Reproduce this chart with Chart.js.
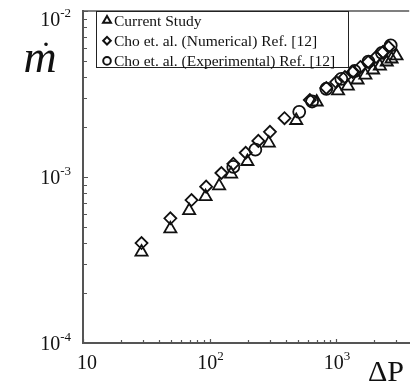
<!DOCTYPE html>
<html><head><meta charset="utf-8">
<script src="https://cdn.jsdelivr.net/npm/chart.js@4/dist/chart.umd.min.js"></script>
<style>html,body{margin:0;padding:0;background:#fff}canvas{display:block}</style>
</head><body><canvas id="c" width="418" height="385"></canvas>
<script>
const seriesNames = ['Current Study', 'Cho et. al. (Numerical) Ref. [12]', 'Cho et. al. (Experimental) Ref. [12]'];
const currentP = [29, 49, 69, 93, 119, 148, 199, 294, 484, 702, 1036, 1237, 1476, 1702, 1960, 2218, 2512, 2743, 3000];
const currentM = [3.53e-4, 4.87e-4, 6.27e-4, 7.62e-4, 8.84e-4, 1.04e-3, 1.24e-3, 1.60e-3, 2.19e-3, 2.83e-3, 3.30e-3, 3.53e-3, 3.84e-3, 4.11e-3, 4.41e-3, 4.66e-3, 4.93e-3, 5.14e-3, 5.36e-3];
const numericalP = [29, 49, 72, 94, 124, 154, 193, 243, 300, 391, 620, 837, 1000, 1173, 1351, 1556, 1793, 2066, 2339, 2600];
const numericalM = [4.0e-4, 5.64e-4, 7.26e-4, 8.75e-4, 1.057e-3, 1.20e-3, 1.40e-3, 1.65e-3, 1.87e-3, 2.26e-3, 2.91e-3, 3.44e-3, 3.73e-3, 4.0e-3, 4.29e-3, 4.6e-3, 4.93e-3, 5.28e-3, 5.66e-3, 6.07e-3];
const experimentalP = [154, 230, 511, 646, 837, 1100, 1400, 1800, 2300, 2700];
const experimentalM = [1.15e-3, 1.46e-3, 2.47e-3, 2.85e-3, 3.4e-3, 3.9e-3, 4.35e-3, 4.95e-3, 5.6e-3, 6.2e-3];
const xTickValues = [10, 100, 1000];
const xTickExponents = ['', '2', '3'];
const yTickValues = [1e-4, 1e-3, 1e-2];
const yTickExponents = ['-4', '-3', '-2'];
const xTitle = 'ΔP';
const yTitle = 'm';

const pts = (xs, ys) => xs.map((v, i) => ({x: v, y: ys[i]}));
function logTicks(min, max) {
  const out = [];
  for (let e = Math.floor(Math.log10(min)); e <= Math.ceil(Math.log10(max)); e++) {
    for (let k = 1; k <= 9; k++) {
      const v = k * Math.pow(10, e);
      if (v >= min * 0.999 && v <= max * 1.001) out.push({value: v});
    }
  }
  return out;
}
const isPow10 = v => Math.abs(Math.log10(v) - Math.round(Math.log10(v))) < 1e-6;

const deco = {
  id: 'deco',
  afterDraw(chart) {
    const {ctx, chartArea: a, scales: {x, y}} = chart;
    ctx.save();
    ctx.strokeStyle = '#555';
    ctx.lineWidth = 1.5;
    ctx.beginPath();
    ctx.moveTo(a.left, a.top); ctx.lineTo(a.right, a.top);
    ctx.stroke();
    ctx.lineWidth = 1.2;
    ctx.beginPath();
    y.ticks.forEach(t => {
      const py = Math.round(y.getPixelForValue(t.value)) + 0.5;
      const len = isPow10(t.value) ? 5 : 4;
      ctx.moveTo(a.left, py); ctx.lineTo(a.left + len, py);
    });
    x.ticks.forEach(t => {
      const px = Math.round(x.getPixelForValue(t.value)) + 0.5;
      const len = isPow10(t.value) ? 4 : 3;
      ctx.moveTo(px, a.bottom); ctx.lineTo(px, a.bottom - len);
    });
    ctx.stroke();

    // tick labels
    ctx.fillStyle = '#111';
    ctx.textBaseline = 'middle';
    const big = '20px "Liberation Serif"', small = '13px "Liberation Serif"';
    yTickValues.forEach((v, i) => {
      let cy = Math.max(y.getPixelForValue(v) + 2, 21);
      const right = 71;
      ctx.font = small;
      const sw = ctx.measureText(yTickExponents[i]).width;
      ctx.textAlign = 'left';
      ctx.fillText(yTickExponents[i], right - sw, cy - 7);
      ctx.font = big; ctx.textAlign = 'right';
      ctx.fillText('10', right - sw, cy);
    });
    xTickValues.forEach((v, i) => {
      const cx = Math.max(x.getPixelForValue(v) + 1, 87);
      const cy = 364;
      ctx.font = big;
      const bw = ctx.measureText('10').width;
      ctx.font = small;
      const sw = xTickExponents[i] ? ctx.measureText(xTickExponents[i]).width : 0;
      const left = cx - (bw + sw) / 2;
      ctx.font = big; ctx.textAlign = 'left';
      ctx.fillText('10', left, cy);
      if (sw) { ctx.font = small; ctx.fillText(xTickExponents[i], left + bw, cy - 7); }
    });

    // axis titles
    ctx.textAlign = 'center';
    ctx.font = '30px "Liberation Serif"';
    ctx.fillText(xTitle, 386, 373);
    ctx.font = 'italic 46px "Liberation Serif"';
    ctx.fillText(yTitle, 40, 60);
    ctx.font = 'bold 22px "Liberation Serif"';
    ctx.fillText('.', 46, 40);

    // legend
    ctx.strokeStyle = '#222';
    ctx.lineWidth = 1;
    ctx.strokeRect(96.5, 11.5, 252, 56);
    ctx.font = '15.5px "Liberation Serif"';
    ctx.textAlign = 'left';
    chart.data.datasets.forEach((ds, i) => {
      const ly = 20.5 + i * 20.2;
      ctx.strokeStyle = '#111';
      ctx.lineWidth = 2;
      ctx.fillStyle = 'rgba(0,0,0,0)';
      Chart.helpers.drawPoint(ctx, {pointStyle: ds.pointStyle, radius: ds.pointStyle === 'triangle' ? 4.6 : 3.8, rotation: 0, borderWidth: 2}, 107, ly);
      ctx.fillStyle = '#111';
      ctx.fillText(ds.label, 114, ly + 1);
    });
    ctx.restore();
  }
};

new Chart(document.getElementById('c'), {
  type: 'scatter',
  data: {
    datasets: [
      {label: seriesNames[0], data: pts(currentP, currentM), pointStyle: 'triangle', pointRadius: 7, borderColor: '#111', backgroundColor: 'rgba(0,0,0,0)', borderWidth: 1.8},
      {label: seriesNames[1], data: pts(numericalP, numericalM), pointStyle: 'rectRot', pointRadius: 6, borderColor: '#111', backgroundColor: 'rgba(0,0,0,0)', borderWidth: 1.8},
      {label: seriesNames[2], data: pts(experimentalP, experimentalM), pointStyle: 'circle', pointRadius: 6, borderColor: '#111', backgroundColor: 'rgba(0,0,0,0)', borderWidth: 1.8}
    ]
  },
  options: {
    responsive: false,
    animation: false,
    layout: {padding: {left: 83, top: 11, right: 0, bottom: 42}},
    plugins: {legend: {display: false}, tooltip: {enabled: false}},
    scales: {
      x: {type: 'logarithmic', min: 10, max: 3780,
          afterBuildTicks: s => { s.ticks = logTicks(10, 3780); },
          ticks: {display: false}, grid: {display: true, drawOnChartArea: false, drawTicks: false},
          border: {display: true, color: '#555', width: 2}},
      y: {type: 'logarithmic', min: 1e-4, max: 1e-2,
          afterBuildTicks: s => { s.ticks = logTicks(1e-4, 1e-2); },
          ticks: {display: false}, grid: {display: true, drawOnChartArea: false, drawTicks: false},
          border: {display: true, color: '#555', width: 2}}
    }
  },
  plugins: [deco]
});
</script>
</body></html>
